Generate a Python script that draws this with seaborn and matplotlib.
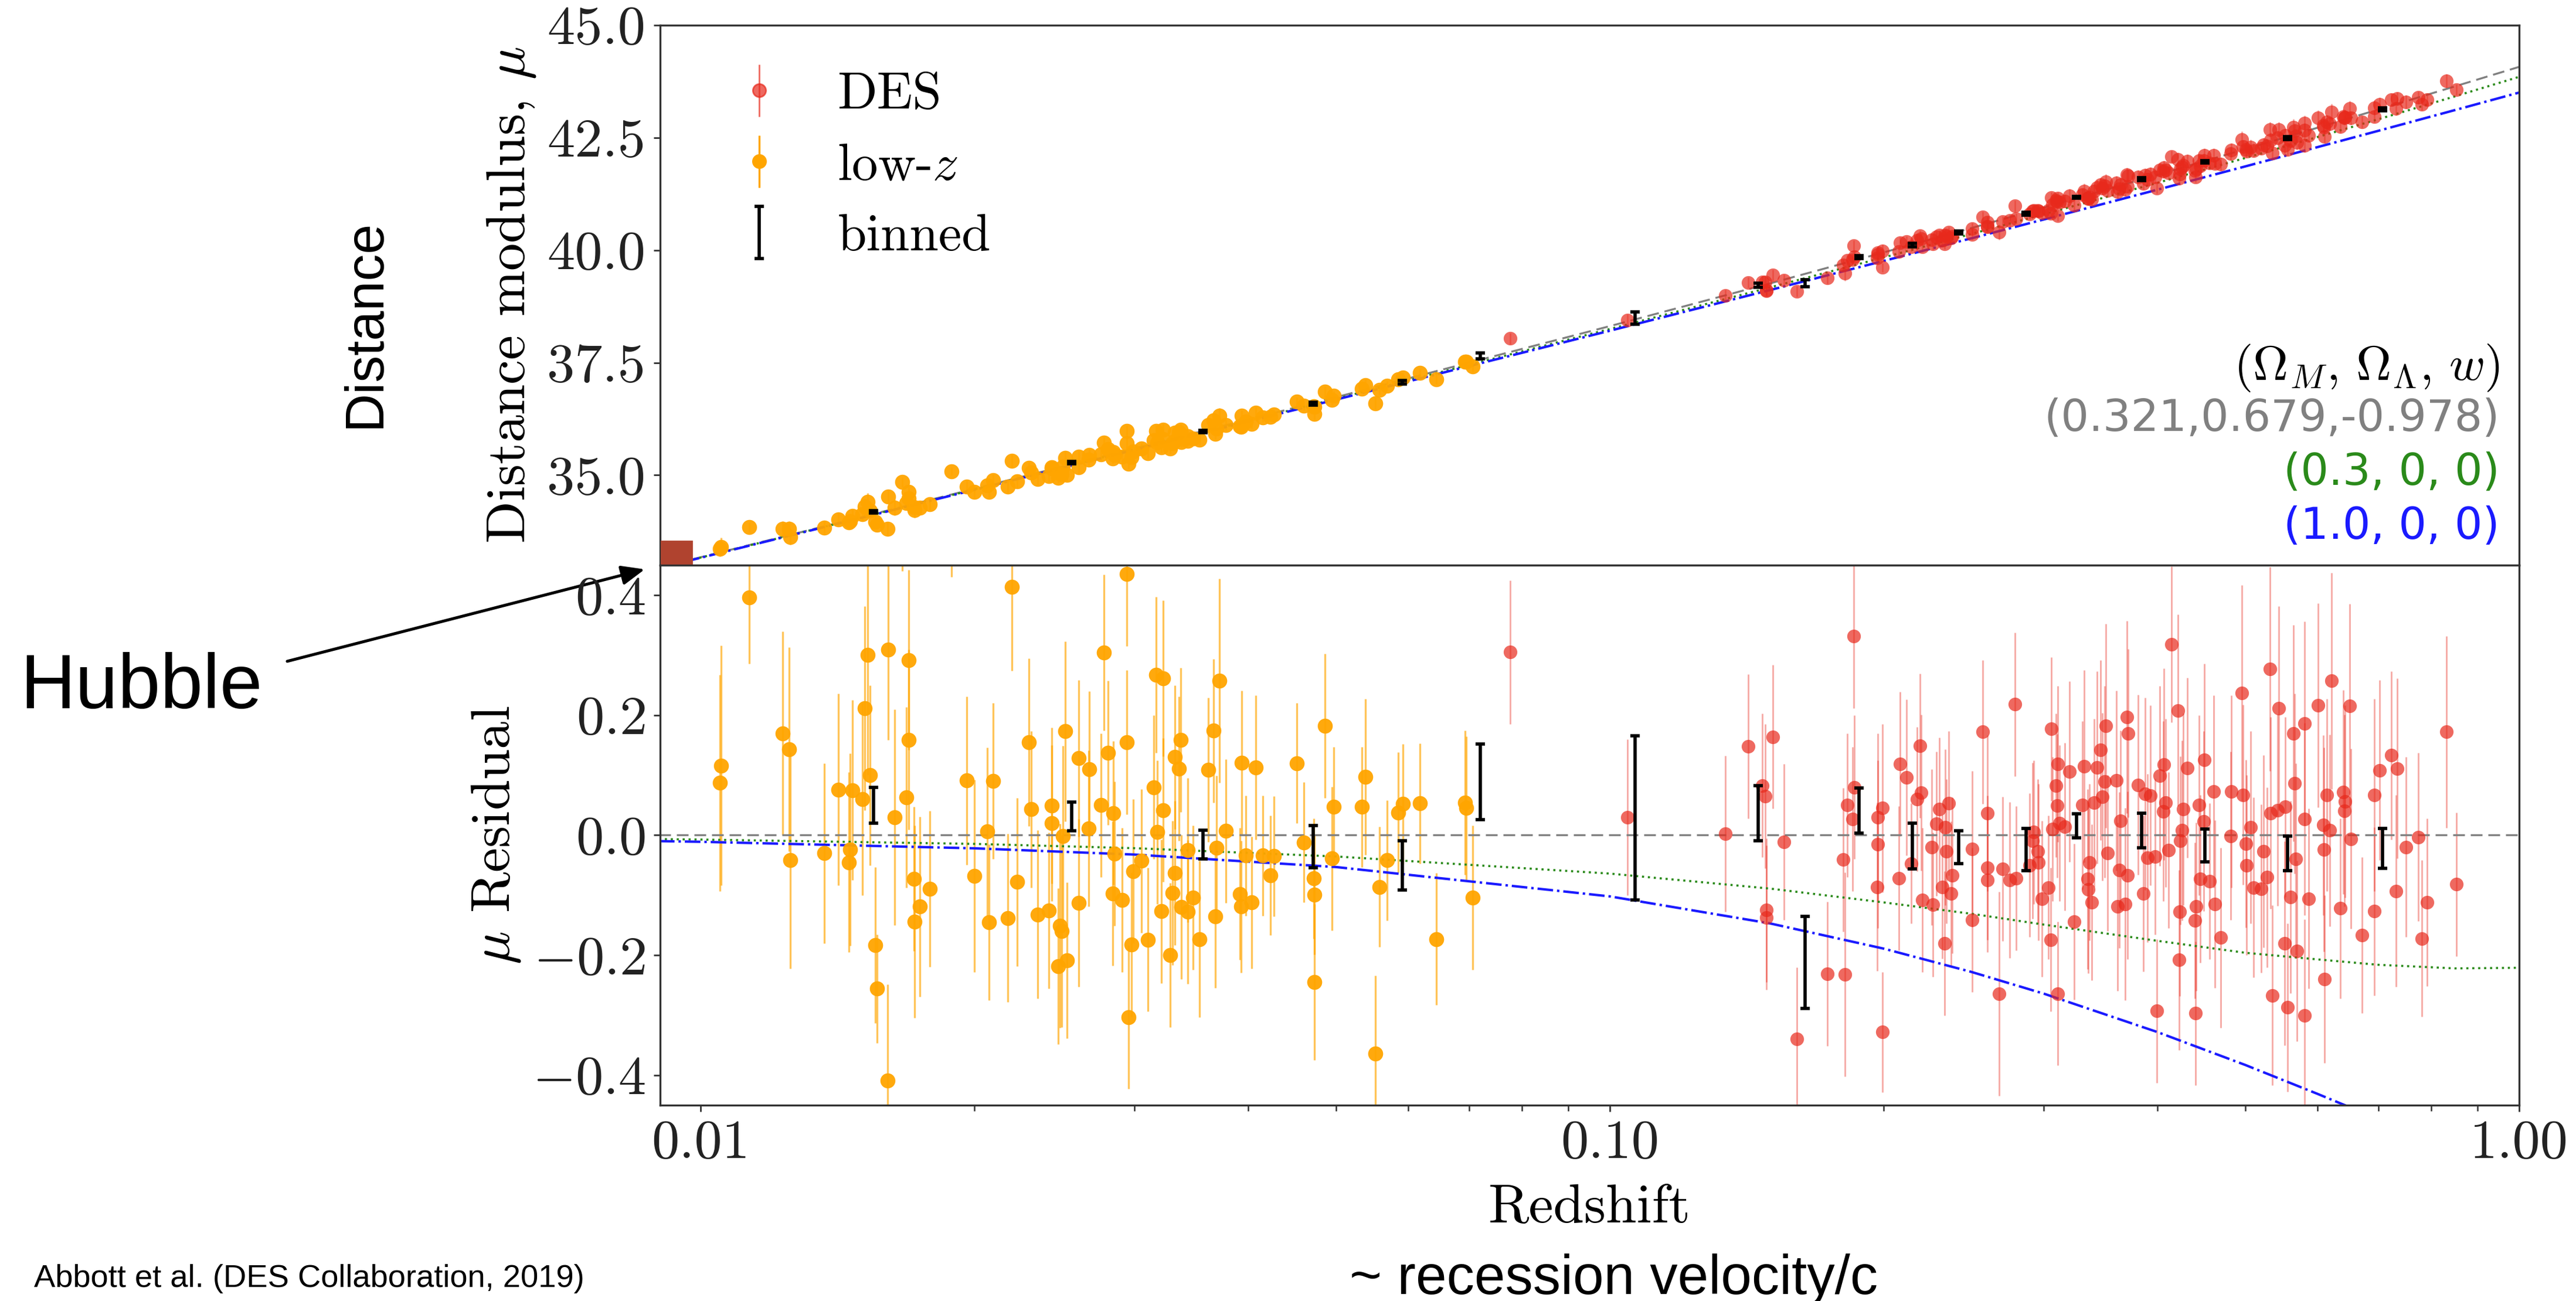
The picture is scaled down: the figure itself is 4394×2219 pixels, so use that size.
import numpy as np
import pandas as pd
import seaborn as sns
import matplotlib.pyplot as plt
from matplotlib.ticker import FixedLocator, FixedFormatter, LogLocator, NullFormatter

# ---------------- data ----------------
# low-z supernovae: redshift, distance modulus, residual, error
lowz_z = [0.01054, 0.01051, 0.01131, 0.01232, 0.01251, 0.01255, 0.01368, 0.01418, 0.01470, 0.01461,
          0.01457, 0.01507, 0.01527, 0.01515, 0.01535, 0.01556, 0.01564, 0.01607, 0.01608, 0.01634,
          0.01693, 0.01693, 0.01685, 0.01717, 0.01742, 0.01719, 0.01786, 0.02199, 0.01962, 0.02001,
          0.02067, 0.02098, 0.02077, 0.02177, 0.02229, 0.02297, 0.02311, 0.02349, 0.02414, 0.02435,
          0.02435, 0.02519, 0.02486, 0.02496, 0.02473, 0.02529, 0.02504, 0.02605, 0.02676, 0.02674,
          0.02607, 0.02776, 0.02808, 0.02757, 0.02846, 0.02852, 0.02839, 0.02908, 0.02942, 0.02944,
          0.02991, 0.02977, 0.02958, 0.01887, 0.01667,
          0.03171, 0.03226, 0.03149, 0.03226, 0.03181, 0.03056, 0.03103, 0.03214, 0.03287, 0.03322,
          0.03359, 0.03375, 0.03322, 0.03302, 0.03380, 0.03433, 0.03433, 0.03479, 0.03536, 0.03619,
          0.03667, 0.03719, 0.03696, 0.03684, 0.03785, 0.03917, 0.03932, 0.04040, 0.03938, 0.03978,
          0.04081, 0.04152, 0.04233, 0.04272, 0.04529, 0.04610, 0.04726, 0.04733, 0.04733, 0.04860,
          0.04974, 0.04951, 0.05334, 0.05384, 0.05579, 0.05523, 0.05693, 0.05854, 0.05918, 0.06185,
          0.06445, 0.06930, 0.06957, 0.07071]
lowz_mu = [33.406, 33.370, 33.840, 33.802, 33.808, 33.630, 33.831, 34.017, 34.095, 33.982,
           33.956, 34.134, 34.403, 34.298, 34.215, 33.961, 33.900, 33.807, 34.526, 34.281,
           34.622, 34.489, 34.382, 34.288, 34.274, 34.220, 34.359, 35.320, 34.746, 34.629,
           34.775, 34.891, 34.634, 34.746, 34.857, 35.157, 35.058, 34.920, 34.986, 35.179,
           35.150, 35.379, 35.026, 35.025, 34.947, 35.006, 35.192, 35.408, 35.450, 35.349,
           35.169, 35.725, 35.583, 35.456, 35.514, 35.450, 35.374, 35.416, 35.705, 35.987,
           35.527, 35.394, 35.259, 35.089, 34.846,
           35.983, 36.015, 35.781, 35.796, 35.728, 35.590, 35.494, 35.619, 35.596, 35.950,
           35.955, 36.014, 35.757, 35.710, 35.738, 35.765, 35.868, 35.818, 35.785, 36.120,
           36.213, 36.327, 36.036, 35.915, 36.117, 36.088, 36.077, 36.144, 36.320, 36.187,
           36.392, 36.283, 36.293, 36.346, 36.631, 36.539, 36.535, 36.511, 36.366, 36.852,
           36.769, 36.673, 36.927, 36.998, 36.896, 36.595, 36.986, 37.128, 37.167, 37.268,
           37.135, 37.526, 37.526, 37.414]
lowz_res = [0.116, 0.087, 0.396, 0.170, 0.143, -0.042, -0.030, 0.076, 0.075, -0.024,
            -0.045, 0.060, 0.300, 0.212, 0.100, -0.183, -0.256, -0.409, 0.309, 0.030,
            0.292, 0.159, 0.063, -0.073, -0.119, -0.144, -0.089, 0.414, 0.091, -0.068,
            0.006, 0.090, -0.145, -0.138, -0.078, 0.155, 0.043, -0.132, -0.126, 0.049,
            0.020, 0.173, -0.151, -0.160, -0.218, -0.209, -0.001, 0.128, 0.110, 0.011,
            -0.113, 0.304, 0.137, 0.050, 0.037, -0.031, -0.097, -0.108, 0.155, 0.435,
            -0.060, -0.182, -0.303, 0.52, 0.55,
            0.267, 0.261, 0.080, 0.042, 0.005, -0.043, -0.174, -0.127, -0.200, 0.130,
            0.111, 0.159, -0.063, -0.096, -0.120, -0.128, -0.025, -0.104, -0.173, 0.109,
            0.174, 0.257, -0.021, -0.135, 0.007, -0.098, -0.119, -0.112, 0.121, -0.034,
            0.113, -0.034, -0.067, -0.035, 0.120, -0.012, -0.072, -0.099, -0.245, 0.182,
            0.047, -0.039, 0.047, 0.097, -0.086, -0.364, -0.042, 0.038, 0.052, 0.053,
            -0.173, 0.054, 0.045, -0.104]
lowz_err = [0.20, 0.18, 0.11, 0.17, 0.17, 0.18, 0.15, 0.16, 0.15, 0.16,
            0.15, 0.16, 0.20, 0.17, 0.15, 0.13, 0.09, 0.16, 0.15, 0.18,
            0.15, 0.15, 0.15, 0.12, 0.15, 0.16, 0.13, 0.14, 0.14, 0.16,
            0.14, 0.13, 0.13, 0.14, 0.14, 0.14, 0.13, 0.14, 0.13, 0.13,
            0.13, 0.15, 0.17, 0.16, 0.13, 0.13, 0.15, 0.13, 0.13, 0.13,
            0.14, 0.13, 0.12, 0.12, 0.12, 0.12, 0.12, 0.12, 0.12, 0.12,
            0.12, 0.12, 0.12, 0.09, 0.11,
            0.13, 0.13, 0.12, 0.12, 0.12, 0.12, 0.12, 0.12, 0.12, 0.12,
            0.12, 0.12, 0.12, 0.12, 0.12, 0.12, 0.12, 0.12, 0.13, 0.12,
            0.12, 0.17, 0.12, 0.12, 0.12, 0.11, 0.11, 0.11, 0.12, 0.10,
            0.12, 0.10, 0.10, 0.10, 0.10, 0.10, 0.10, 0.10, 0.13, 0.12,
            0.10, 0.12, 0.10, 0.13, 0.10, 0.13, 0.10, 0.10, 0.10, 0.10,
            0.11, 0.12, 0.12, 0.12]

# DES supernovae
des_z = [0.07767,
         0.10453, 0.13405, 0.14199, 0.15119, 0.14712, 0.14821, 0.14865, 0.14875, 0.15537, 0.16060,
         0.17356, 0.18151, 0.18071, 0.18245, 0.18488, 0.18584, 0.18556, 0.19717, 0.19936, 0.19717,
         0.19687, 0.19936, 0.20870, 0.21196, 0.20808, 0.21945, 0.21993, 0.21784, 0.21465, 0.22059,
         0.22652, 0.22603, 0.22855, 0.23024, 0.23365, 0.23590, 0.23452, 0.23800, 0.23193, 0.23713,
         0.23330, 0.25026, 0.25026, 0.25722, 0.26008, 0.26008, 0.26008, 0.26807, 0.27025, 0.27529,
         0.27999, 0.27896, 0.29159, 0.29549, 0.28944, 0.29592, 0.29267, 0.30367, 0.29878, 0.30546,
         0.30591, 0.31114, 0.30932, 0.31046, 0.31230, 0.30658, 0.31114,
         0.31635, 0.32021, 0.32434, 0.33256, 0.33103, 0.33685, 0.33557, 0.33607, 0.33865, 0.34332,
         0.34671, 0.34802, 0.35039, 0.35119, 0.35251, 0.34068, 0.36059, 0.36196, 0.36886, 0.36333,
         0.37083, 0.36470, 0.37027, 0.37167, 0.38106, 0.38598, 0.38803, 0.39039, 0.39335, 0.39783,
         0.39935, 0.40238, 0.40698, 0.40850, 0.40604, 0.41161, 0.41476, 0.42173, 0.42366, 0.42269,
         0.42428, 0.42751, 0.42589, 0.43143, 0.44133, 0.43999, 0.44067, 0.44469, 0.45078, 0.44568,
         0.45701, 0.44975, 0.46292, 0.46117, 0.47001, 0.48187, 0.48261, 0.49550, 0.49736, 0.50038,
         0.50113, 0.50685, 0.51070, 0.52051, 0.52368, 0.52847, 0.53248, 0.53572, 0.53329, 0.54390,
         0.54266, 0.55305, 0.55220, 0.55641, 0.56064, 0.56490, 0.56662, 0.57004, 0.56789, 0.58095,
         0.58095, 0.58670, 0.58095, 0.60108, 0.61117, 0.61490, 0.60933, 0.61026, 0.62193, 0.61959,
         0.63624, 0.64107, 0.64349, 0.64252, 0.65083, 0.65330, 0.67186, 0.69305, 0.70201, 0.69305,
         0.72354, 0.73459, 0.73182, 0.75145, 0.77463, 0.78170, 0.79240, 0.83234, 0.85340]
des_mu = [38.037,
          38.445, 38.997, 39.279, 39.444, 39.298, 39.297, 39.115, 39.104, 39.334, 39.084,
          39.378, 39.486, 39.666, 39.780, 39.789, 39.854, 40.103, 39.946, 39.987, 39.901,
          39.827, 39.614, 40.172, 40.186, 39.974, 40.324, 40.251, 40.217, 40.074, 40.079,
          40.136, 40.227, 40.293, 40.335, 40.341, 40.404, 40.310, 40.306, 40.224, 40.267,
          40.144, 40.473, 40.355, 40.735, 40.628, 40.537, 40.516, 40.402, 40.630, 40.657,
          40.702, 40.983, 40.865, 40.881, 40.806, 40.866, 40.889, 40.889, 40.830, 40.817,
          41.171, 41.155, 41.104, 41.079, 41.065, 41.010, 40.772,
          41.091, 41.213, 40.995, 41.317, 41.240, 41.189, 41.152, 41.138, 41.136, 41.395,
          41.450, 41.382, 41.424, 41.523, 41.321, 41.318, 41.499, 41.298, 41.350, 41.369,
          41.412, 41.461, 41.672, 41.655, 41.632, 41.484, 41.664, 41.572, 41.695, 41.623,
          41.375, 41.786, 41.834, 41.780, 41.750, 41.720, 42.082, 42.015, 41.691, 41.605,
          41.813, 41.885, 41.841, 41.978, 41.805, 41.774, 41.623, 41.993, 42.105, 41.876,
          41.937, 41.996, 41.931, 42.110, 41.915, 42.150, 42.227, 42.459, 42.300, 42.234,
          42.202, 42.295, 42.214, 42.261, 42.338, 42.319, 42.686, 42.158, 42.450, 42.676,
          42.500, 42.554, 42.323, 42.236, 42.439, 42.732, 42.656, 42.392, 42.536, 42.821,
          42.662, 42.555, 42.335, 42.941, 42.528, 42.851, 42.777, 42.739, 43.071, 42.811,
          42.751, 42.965, 42.959, 42.940, 43.148, 42.937, 42.850, 43.167, 43.242, 42.973,
          43.347, 43.366, 43.152, 43.294, 43.392, 43.247, 43.343, 43.757, 43.570]
des_res = [0.305,
           0.030, 0.002, 0.148, 0.164, 0.083, 0.065, -0.125, -0.137, -0.011, -0.340,
           -0.231, -0.232, -0.041, 0.050, 0.027, 0.080, 0.332, 0.030, 0.045, -0.015,
           -0.086, -0.328, 0.119, 0.096, -0.072, 0.149, 0.071, 0.060, -0.047, -0.108,
           -0.116, -0.020, 0.019, 0.043, 0.013, 0.053, -0.027, -0.067, -0.086, -0.097,
           -0.180, -0.023, -0.141, 0.172, 0.037, -0.054, -0.075, -0.264, -0.056, -0.075,
           -0.072, 0.218, -0.009, -0.027, -0.050, -0.045, 0.005, -0.087, -0.106, -0.174,
           0.177, 0.119, 0.083, 0.049, 0.020, 0.010, -0.264,
           0.014, 0.106, -0.144, 0.115, 0.050, -0.045, -0.073, -0.090, -0.112, 0.113,
           0.142, 0.064, 0.089, 0.182, -0.030, 0.054, 0.091, -0.119, -0.115, -0.058,
           -0.067, 0.024, 0.197, 0.170, 0.084, -0.097, 0.069, -0.038, 0.066, -0.036,
           -0.293, 0.099, 0.118, 0.054, 0.040, -0.025, 0.318, 0.208, -0.128, -0.208,
           -0.009, 0.043, 0.008, 0.112, -0.119, -0.142, -0.297, 0.050, 0.126, -0.073,
           -0.077, 0.023, -0.115, 0.073, -0.171, -0.001, 0.073, 0.237, 0.067, -0.014,
           -0.050, 0.013, -0.087, -0.089, -0.027, -0.070, 0.277, -0.267, 0.037, 0.212,
           0.042, 0.047, -0.180, -0.287, -0.103, 0.170, 0.086, -0.193, -0.040, 0.186,
           0.027, -0.106, -0.300, 0.216, -0.240, 0.067, 0.017, -0.024, 0.257, 0.008,
           -0.122, 0.072, 0.056, 0.041, 0.215, -0.006, -0.167, 0.067, 0.108, -0.127,
           0.133, 0.111, -0.093, -0.020, -0.003, -0.172, -0.112, 0.172, -0.082]
des_err = [0.12,
           0.13, 0.13, 0.12, 0.12, 0.12, 0.12, 0.12, 0.12, 0.13, 0.12,
           0.12, 0.17, 0.12, 0.12, 0.12, 0.12, 0.12, 0.14, 0.14, 0.14,
           0.14, 0.10, 0.12, 0.13, 0.12, 0.12, 0.13, 0.12, 0.10, 0.12,
           0.12, 0.13, 0.12, 0.12, 0.13, 0.12, 0.12, 0.13, 0.12, 0.12,
           0.12, 0.13, 0.12, 0.12, 0.13, 0.12, 0.12, 0.17, 0.12, 0.13,
           0.12, 0.12, 0.13, 0.12, 0.12, 0.13, 0.12, 0.12, 0.13, 0.12,
           0.12, 0.13, 0.12, 0.12, 0.13, 0.12, 0.12,
           0.14, 0.15, 0.13, 0.16, 0.14, 0.13, 0.15, 0.14, 0.13, 0.16,
           0.15, 0.14, 0.16, 0.17, 0.13, 0.14, 0.15, 0.14, 0.16, 0.13,
           0.14, 0.15, 0.16, 0.14, 0.15, 0.13, 0.16, 0.14, 0.15, 0.13,
           0.12, 0.15, 0.16, 0.14, 0.15, 0.13, 0.13, 0.16, 0.14, 0.15,
           0.14, 0.16, 0.15, 0.15, 0.14, 0.13, 0.12, 0.15, 0.16, 0.14,
           0.13, 0.15, 0.14, 0.16, 0.15, 0.14, 0.16, 0.18, 0.15, 0.14,
           0.15, 0.16, 0.15, 0.14, 0.16, 0.15, 0.17, 0.15, 0.16, 0.17,
           0.16, 0.15, 0.17, 0.14, 0.16, 0.18, 0.15, 0.15, 0.16, 0.17,
           0.16, 0.15, 0.16, 0.17, 0.14, 0.16, 0.15, 0.17, 0.18, 0.16,
           0.15, 0.17, 0.16, 0.16, 0.17, 0.15, 0.13, 0.16, 0.15, 0.14,
           0.14, 0.15, 0.16, 0.15, 0.14, 0.13, 0.14, 0.16, 0.12]

# binned points
bin_z = [0.0155, 0.0256, 0.0357, 0.0472, 0.0591, 0.0720, 0.1066, 0.1455, 0.1640,
         0.1880, 0.2151, 0.2420, 0.2870, 0.3260, 0.3846, 0.4515, 0.5565, 0.7073]
bin_mu = [34.184, 35.276, 35.968, 36.587, 37.061, 37.648, 38.490, 39.226, 39.262,
          39.846, 40.109, 40.395, 40.814, 41.170, 41.580, 41.965, 42.493, 43.132]
bin_res = [0.050, 0.031, -0.016, -0.019, -0.050, 0.089, 0.029, 0.037, -0.212,
           0.041, -0.018, -0.020, -0.024, 0.016, 0.008, -0.017, -0.030, -0.022]
bin_err = [0.030, 0.024, 0.024, 0.035, 0.041, 0.063, 0.137, 0.046, 0.077,
           0.038, 0.038, 0.027, 0.035, 0.020, 0.029, 0.027, 0.029, 0.033]

# cosmology curves (Omega_M, Omega_Lambda, w)
model_z = [0.009, 0.01, 0.02, 0.03, 0.05, 0.1, 0.15, 0.2, 0.25, 0.3, 0.4, 0.5, 0.6, 0.7, 0.85, 1.0]
mu_lcdm = [32.944, 33.175, 34.696, 35.593, 36.733, 38.312, 39.261, 39.950, 40.494, 40.946,
           41.672, 42.246, 42.721, 43.126, 43.641, 44.074]
mu_open = [32.938, 33.168, 34.682, 35.571, 36.698, 38.248, 39.172, 39.838, 40.363, 40.797,
           41.496, 42.050, 42.514, 42.910, 43.419, 43.853]
mu_eds = [32.934, 33.164, 34.674, 35.561, 36.680, 38.210, 39.114, 39.761, 40.266, 40.682,
          41.344, 41.863, 42.290, 42.653, 43.114, 43.503]
res_lcdm = [0.0, 0.0, 0.0, 0.0, 0.0, 0.0, 0.0, 0.0, 0.0, 0.0, 0.0, 0.0, 0.0, 0.0, 0.0, 0.0]
res_open = [-0.0065, -0.0073, -0.0145, -0.0217, -0.0355, -0.064, -0.089, -0.112, -0.131, -0.149,
            -0.176, -0.196, -0.207, -0.216, -0.222, -0.221]
res_eds = [-0.0099, -0.011, -0.0219, -0.0323, -0.0531, -0.102, -0.147, -0.189, -0.228, -0.264,
           -0.328, -0.383, -0.431, -0.473, -0.527, -0.571]

model_labels = ['(0.321,0.679,-0.978)', '(0.3, 0, 0)', '(1.0, 0, 0)']
model_colors = ['#808080', '#2a8a1a', '#1a1aff']

hubble_z = [0.00941]
hubble_mu = [33.20]

lowz = pd.DataFrame({'z': lowz_z, 'mu': lowz_mu, 'res': lowz_res, 'err': lowz_err})
des = pd.DataFrame({'z': des_z, 'mu': des_mu, 'res': des_res, 'err': des_err})

# ---------------- style ----------------
sns.set_style('ticks')
plt.rcParams['font.family'] = ['cmr10', 'DejaVu Serif']
plt.rcParams['mathtext.fontset'] = 'cm'
plt.rcParams['axes.formatter.use_mathtext'] = True
plt.rcParams['axes.edgecolor'] = '#333333'
plt.rcParams['axes.linewidth'] = 1.2
plt.rcParams['text.color'] = 'black'
plt.rcParams['axes.labelcolor'] = 'black'
plt.rcParams['xtick.color'] = '#333333'
plt.rcParams['ytick.color'] = '#333333'
sans = ['Liberation Sans', 'DejaVu Sans']

orange = '#ffa500'
red = '#e8291c'

fig = plt.figure(figsize=(21.97, 11.095), dpi=200)
ax1 = fig.add_axes([0.2563, 0.5656, 0.7216, 0.4150])
ax2 = fig.add_axes([0.2563, 0.1505, 0.7216, 0.4151])

lstyles = [(0, (6, 3)), (0, (1, 1.8)), (0, (6.4, 1.6, 1, 1.6))]
lwidths = [1.2, 1.3, 1.5]

for ax, ycol, curves in [(ax1, 'mu', [mu_lcdm, mu_open, mu_eds]),
                         (ax2, 'res', [res_lcdm, res_open, res_eds])]:
    ax.set_xscale('log')
    ax.errorbar(lowz['z'], lowz[ycol], yerr=lowz['err'], fmt='none', ecolor=orange,
                alpha=0.65, elinewidth=1.2, zorder=2)
    ax.errorbar(des['z'], des[ycol], yerr=des['err'], fmt='none', ecolor=red,
                alpha=0.4, elinewidth=1.0, zorder=2)
    for yv, c, ls, lw in zip(curves, model_colors, lstyles, lwidths):
        sns.lineplot(x=model_z, y=yv, ax=ax, color=c, linestyle=ls, linewidth=lw,
                     estimator=None, sort=False, zorder=2.5)
    sns.scatterplot(data=lowz, x='z', y=ycol, ax=ax, color=orange, s=85, linewidth=0,
                    alpha=0.95, zorder=3, legend=False)
    sns.scatterplot(data=des, x='z', y=ycol, ax=ax, color=red, s=70, linewidth=0,
                    alpha=0.7, zorder=3, legend=False)
    ax.errorbar(bin_z, bin_mu if ycol == 'mu' else bin_res, yerr=bin_err, fmt='none',
                ecolor='black', elinewidth=2.0, capsize=3, capthick=2.0, zorder=5)
    ax.set_xlim(0.00903, 1.0)
    ax.xaxis.set_major_locator(FixedLocator([0.01, 0.1, 1.0]))
    ax.xaxis.set_minor_locator(LogLocator(base=10, subs=[2, 3, 4, 5, 6, 7, 8, 9]))
    ax.xaxis.set_minor_formatter(NullFormatter())
    ax.tick_params(axis='both', which='major', direction='out', length=4, width=1.0,
                   labelsize=34, pad=5, labelcolor='#222222')
    ax.tick_params(axis='both', which='minor', direction='out', length=3.5, width=0.9)
    ax.set_xlabel('')
    ax.set_ylabel('')

# top panel
ax1.set_ylim(33, 45)
ax1.yaxis.set_major_locator(FixedLocator([35, 37.5, 40, 42.5, 45]))
ax1.yaxis.set_major_formatter(FixedFormatter(['35.0', '37.5', '40.0', '42.5', '45.0']))
ax1.tick_params(axis='x', which='both', bottom=False, labelbottom=False)
ax1.set_ylabel('Distance modulus, $\\mu$', fontsize=34, labelpad=6)

# bottom panel
ax2.set_ylim(-0.45, 0.45)
ax2.yaxis.set_major_locator(FixedLocator([-0.4, -0.2, 0.0, 0.2, 0.4]))
ax2.yaxis.set_major_formatter(FixedFormatter(['$-0.4$', '$-0.2$', '$0.0$', '$0.2$', '$0.4$']))
ax2.xaxis.set_major_formatter(FixedFormatter(['0.01', '0.10', '1.00']))
ax2.set_ylabel('$\\mu$ Residual', fontsize=34, labelpad=6)
ax2.set_xlabel('Redshift', fontsize=34, labelpad=10)

# legend
h_des = ax1.errorbar([np.nan], [np.nan], yerr=[1], fmt='o', color=red, ms=8, alpha=0.7,
                     ecolor=red, elinewidth=1.0)
h_low = ax1.errorbar([np.nan], [np.nan], yerr=[1], fmt='o', color=orange, ms=8,
                     ecolor=orange, elinewidth=1.2)
h_bin = ax1.errorbar([np.nan], [np.nan], yerr=[1], fmt='none', ecolor='black',
                     elinewidth=2.0, capsize=3, capthick=2.0)
ax1.legend([h_des, h_low, h_bin], ['DES', 'low-$z$', 'binned'], loc='upper left',
           frameon=False, fontsize=32, handletextpad=0.5, labelspacing=0.47,
           borderaxespad=0.5, handlelength=2.0)

# cosmology key
ax1.text(0.9896, 0.3648, '$(\\Omega_M,\\,\\Omega_\\Lambda,\\,w)$', transform=ax1.transAxes,
         ha='right', va='center', fontsize=30, color='black')
for lab, c, yy in zip(model_labels, model_colors, [0.2714, 0.1705, 0.0706]):
    ax1.text(0.9896, yy, lab, transform=ax1.transAxes, ha='right', va='center',
             fontsize=27, color=c, family=['DejaVu Sans'])

# Hubble marker and annotations
ax1.plot(hubble_z, hubble_mu, marker='s', ms=19, color='#b0432f', ls='none',
         clip_on=False, zorder=10)
ax1.annotate('', xy=(0.2503, 0.5624), xycoords='figure fraction',
             xytext=(0.1115, 0.4917), textcoords='figure fraction',
             arrowprops=dict(arrowstyle='-|>,head_length=0.6,head_width=0.25', lw=1.8,
                             color='black', mutation_scale=20, shrinkA=0, shrinkB=0),
             annotation_clip=False)
fig.text(0.0077, 0.4556, 'Hubble', fontsize=47, family=sans, ha='left', va='baseline')
fig.text(0.1420, 0.7512, 'Distance', fontsize=33, family=sans, rotation=90,
         ha='center', va='center')
fig.text(0.6265, 0.0054, '~ recession velocity/c', fontsize=34, family=sans,
         ha='center', va='baseline')
fig.text(0.0132, 0.006, 'Abbott et al. (DES Collaboration, 2019)', fontsize=19.6,
         family=sans, ha='left', va='bottom')

fig.savefig('out.png', dpi=200)
